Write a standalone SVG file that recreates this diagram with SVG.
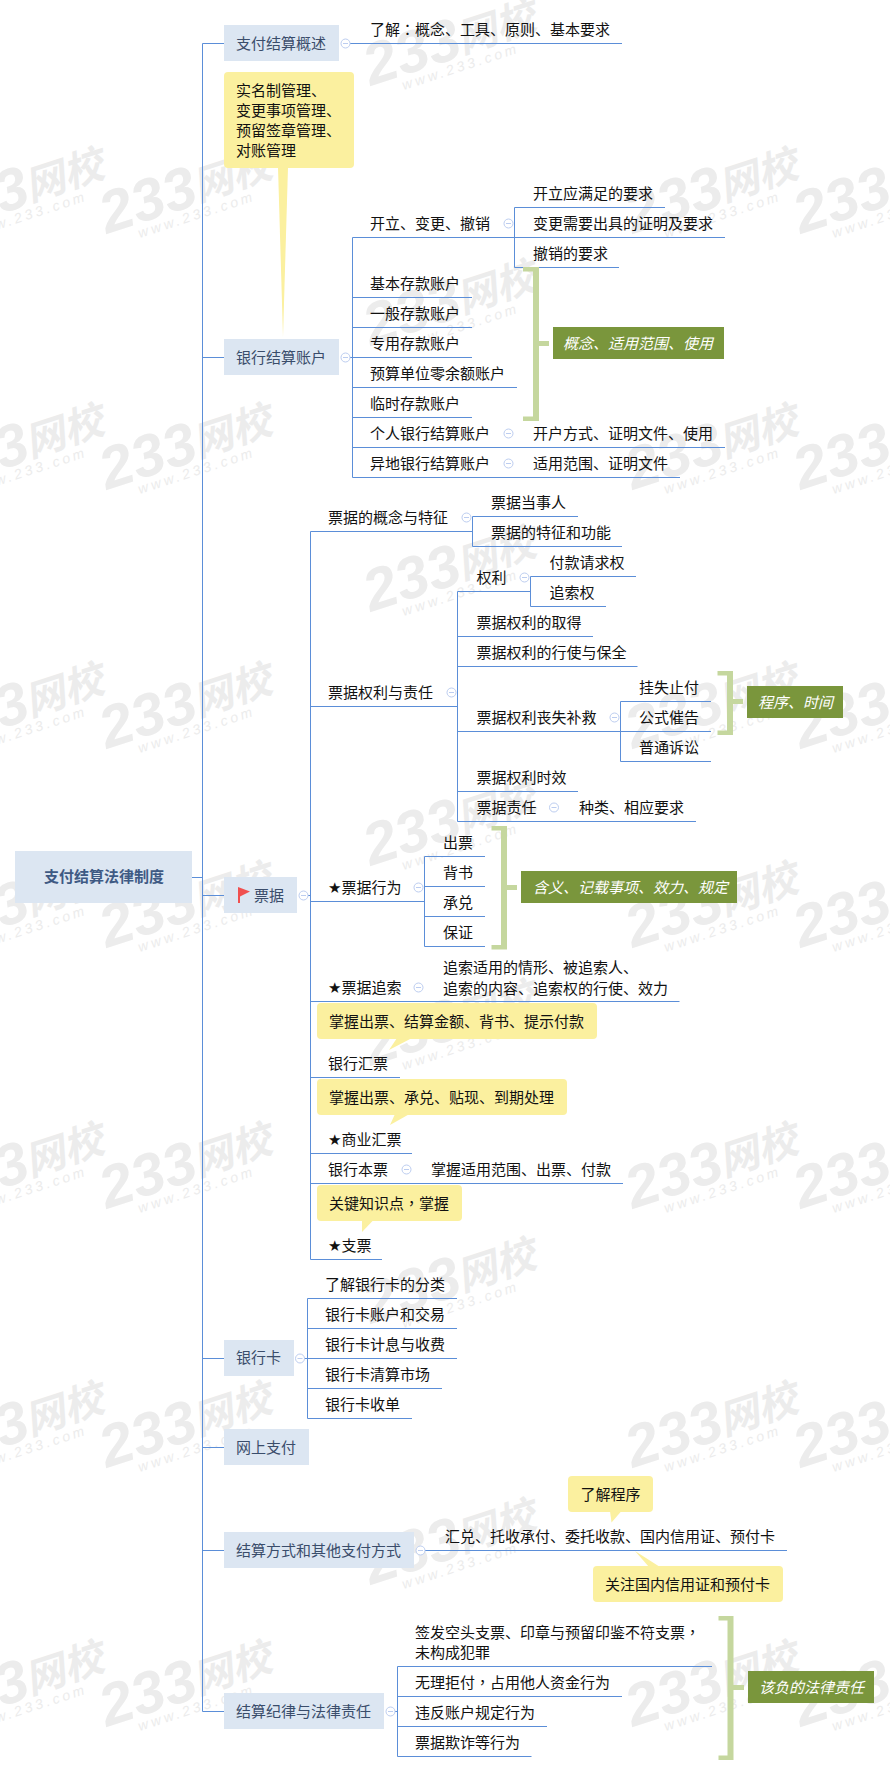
<svg xmlns="http://www.w3.org/2000/svg" width="890" height="1777" viewBox="0 0 890 1777">
<style>
text{font-family:"Noto Sans CJK SC","Noto Sans CJK JP",sans-serif;font-size:15px;fill:#111}
.l1{fill:#3a4d6b}
.root{font-weight:700;fill:#3f5a84}
.g{fill:#fff;font-style:italic}
.tc{font-family:"Noto Sans CJK TC",sans-serif}
.star{font-family:"DejaVu Sans",sans-serif}
.box{fill:#dce6f2}
.note{fill:#fbf09f}
.tag{fill:#7a963c}
.br{fill:#c5d79e}
.ln{fill:none;stroke:#5b8ed8;stroke-width:1}
.wa{font-family:"Liberation Sans",sans-serif;font-weight:700;font-style:italic;font-size:59px;fill:#ececec}
.wb{font-weight:700;font-style:italic;font-size:40px;fill:#ececec}
.wc{font-family:"Liberation Sans",sans-serif;font-style:italic;font-size:14px;letter-spacing:3.2px;fill:#ececec}
.cc{fill:#fff;stroke:#bccdf0;stroke-width:1}
.cm{fill:none;stroke:#bccdf0;stroke-width:1}
</style>
<defs>
<g id="wm" transform="rotate(-18)">
<text class="wa" x="0" y="0">233</text>
<text class="wb" x="97" y="-3">网校</text>
<text class="wc" x="30" y="14">www.233.com</text>
</g>
<g id="c"><circle class="cc" r="4.5"/><path class="cm" d="M-2.5 0H2.5"/></g>
</defs>
<g id="watermarks">
<use href="#wm" transform="translate(-61 234)"/><use href="#wm" transform="translate(107 234)"/><use href="#wm" transform="translate(633 234)"/><use href="#wm" transform="translate(801 234)"/>
<use href="#wm" transform="translate(-61 490)"/><use href="#wm" transform="translate(107 490)"/><use href="#wm" transform="translate(633 490)"/><use href="#wm" transform="translate(801 490)"/>
<use href="#wm" transform="translate(-61 749)"/><use href="#wm" transform="translate(107 749)"/><use href="#wm" transform="translate(633 749)"/><use href="#wm" transform="translate(801 749)"/>
<use href="#wm" transform="translate(-61 948)"/><use href="#wm" transform="translate(107 948)"/><use href="#wm" transform="translate(633 948)"/><use href="#wm" transform="translate(801 948)"/>
<use href="#wm" transform="translate(-61 1209)"/><use href="#wm" transform="translate(107 1209)"/><use href="#wm" transform="translate(633 1209)"/><use href="#wm" transform="translate(801 1209)"/>
<use href="#wm" transform="translate(-61 1468)"/><use href="#wm" transform="translate(107 1468)"/><use href="#wm" transform="translate(633 1468)"/><use href="#wm" transform="translate(801 1468)"/>
<use href="#wm" transform="translate(-61 1727)"/><use href="#wm" transform="translate(107 1727)"/><use href="#wm" transform="translate(633 1727)"/><use href="#wm" transform="translate(801 1727)"/>
<use href="#wm" transform="translate(371 86)"/><use href="#wm" transform="translate(371 346)"/><use href="#wm" transform="translate(371 612)"/><use href="#wm" transform="translate(371 866)"/><use href="#wm" transform="translate(371 1066)"/><use href="#wm" transform="translate(371 1324)"/><use href="#wm" transform="translate(371 1585)"/>
</g>
<g id="connectors">
<path class="ln" d="M192 877.5H202.5M224 43.5H202.5V1711.5H224M202.5 357.5H224M202.5 895.5H224M202.5 1358.5H224M202.5 1447.5H224M202.5 1550.5H224"/>
<path class="ln" d="M350 43.5H622"/>
<path class="ln" d="M344 357.5H352.5M352.5 477.5V237.5H514.5M514.5 207.5V267.5M514.5 207.5H665M514.5 237.5H725M514.5 267.5H619M352.5 297.5H472M352.5 327.5H472M352.5 357.5H472M352.5 387.5H517M352.5 417.5H472M352.5 447.5H725M352.5 477.5H680"/>
<path class="ln" d="M308 895.5H310.5M310.5 531.5V1259.5M310.5 531.5H472.5M472.5 516.5V546.5M472.5 516.5H578M472.5 546.5H622"/>
<path class="ln" d="M310.5 706.5H457.5M457.5 591.5V821.5M457.5 591.5H530.5M530.5 576.5V606.5M530.5 576.5H636M530.5 606.5H606M457.5 636.5H593M457.5 666.5H637.5M457.5 731.5H620.5M620.5 701.5V761.5M620.5 701.5H711M620.5 731.5H711M620.5 761.5H711M457.5 791.5H578M457.5 821.5H696"/>
<path class="ln" d="M310.5 901.5H424.5M424.5 856.5V946.5M424.5 856.5H485M424.5 886.5H485M424.5 916.5H485M424.5 946.5H485"/>
<path class="ln" d="M310.5 1001.5H679.5M310.5 1077.5H400M310.5 1153.5H412M310.5 1183.5H623M310.5 1259.5H382"/>
<path class="ln" d="M299 1358.5H457M307.5 1298.5V1418.5M307.5 1298.5H457M307.5 1328.5H457M307.5 1388.5H442M307.5 1418.5H412"/>
<path class="ln" d="M420 1550.5H787"/>
<path class="ln" d="M390 1711.5H397.5M397.5 1666.5V1756.5M397.5 1666.5H712M397.5 1696.5H622M397.5 1726.5H547M397.5 1756.5H531.5"/>
</g>
<g id="n-root"><rect class="box" x="15" y="851" width="177" height="52"/><text class="root" x="44" y="882">支付结算法律制度</text></g>
<g id="n-overview"><rect class="box" x="224" y="25" width="115" height="36"/><text class="l1" x="236" y="49">支付结算概述</text><use href="#c" x="345.5" y="43.5"/></g>
<g id="n-overview-1"><text x="370" y="34.5">了解<tspan class="tc">：</tspan>概念、工具、原则、基本要求</text></g>
<g id="note-account"><polygon class="note" points="278,167 288,167 283,337"/><rect class="note" x="224" y="72" width="130" height="96" rx="4"/><text x="236" y="95.500">实名制管理、</text><text x="236" y="115.500">变更事项管理、</text><text x="236" y="135.500">预留签章管理、</text><text x="236" y="155.500">对账管理</text></g>
<g id="n-account"><rect class="box" x="224" y="339" width="115" height="36"/><text class="l1" x="236" y="363">银行结算账户</text><use href="#c" x="345.5" y="357.5"/></g>
<g id="n-open"><text x="370" y="228.500">开立、变更、撤销</text><use href="#c" x="508.500" y="223.500"/></g>
<g id="n-open-1"><text x="533" y="198.500">开立应满足的要求</text></g>
<g id="n-open-2"><text x="533" y="228.500">变更需要出具的证明及要求</text></g>
<g id="n-open-3"><text x="533" y="258.500">撤销的要求</text></g>
<g id="n-acc-1"><text x="370" y="288.500">基本存款账户</text></g>
<g id="n-acc-2"><text x="370" y="318.500">一般存款账户</text></g>
<g id="n-acc-3"><text x="370" y="348.500">专用存款账户</text></g>
<g id="n-acc-4"><text x="370" y="378.500">预算单位零余额账户</text></g>
<g id="n-acc-5"><text x="370" y="408.500">临时存款账户</text></g>
<g id="n-acc-6"><text x="370" y="438.500">个人银行结算账户</text><use href="#c" x="508.500" y="433.500"/></g>
<g id="n-acc-6a"><text x="533" y="438.500">开户方式、证明文件、使用</text></g>
<g id="n-acc-7"><text x="370" y="468.500">异地银行结算账户</text><use href="#c" x="508.500" y="463.500"/></g>
<g id="n-acc-7a"><text x="533" y="468.500">适用范围、证明文件</text></g>
<g id="tag-acc"><path class="br" d="M523 267H539V341H549V346H539V421H523V416.500H533V271.500H523Z"/><rect class="tag" x="553" y="327" width="171" height="32"/><text class="g" x="563" y="348.500">概念、适用范围、使用</text></g>

<g id="n-bill"><rect class="box" x="224" y="877" width="73" height="36"/><path d="M238 887V903H240V896.500L250 891.500Z" fill="#f0504f"/><text class="l1" x="254" y="901">票据</text><use href="#c" x="303.500" y="895.500"/></g>
<g id="n-b1"><text x="328" y="523">票据的概念与特征</text><use href="#c" x="466.500" y="517.500"/></g>
<g id="n-b1a"><text x="491" y="507.500">票据当事人</text></g>
<g id="n-b1b"><text x="491" y="537.500">票据的特征和功能</text></g>
<g id="n-b2"><text x="328" y="698">票据权利与责任</text><use href="#c" x="451.500" y="692.500"/></g>
<g id="n-b2a"><text x="476.500" y="583">权利</text><use href="#c" x="524.500" y="577.500"/></g>
<g id="n-b2a1"><text x="549.500" y="567.500">付款请求权</text></g>
<g id="n-b2a2"><text x="549.500" y="597.500">追索权</text></g>
<g id="n-b2b"><text x="476.500" y="627.500">票据权利的取得</text></g>
<g id="n-b2c"><text x="476.500" y="657.500">票据权利的行使与保全</text></g>
<g id="n-b2d"><text x="476.500" y="723">票据权利丧失补救</text><use href="#c" x="614.500" y="717.500"/></g>
<g id="n-b2d1"><text x="639" y="692.500">挂失止付</text></g>
<g id="n-b2d2"><text x="639" y="722.500">公式催告</text></g>
<g id="n-b2d3"><text x="639" y="752.500">普通诉讼</text></g>
<g id="tag-b2d"><path class="br" d="M717.500 671H733V699H743V704H733V735H717.500V730.500H727V675.500H717.500Z"/><rect class="tag" x="747" y="686" width="96" height="32"/><text class="g" x="758" y="707.500">程序、时间</text></g>
<g id="n-b2e"><text x="476.500" y="782.500">票据权利时效</text></g>
<g id="n-b2f"><text x="476.500" y="812.500">票据责任</text><use href="#c" x="554" y="807.500"/></g>
<g id="n-b2f1"><text x="579" y="812.500">种类、相应要求</text></g>
<g id="n-b3"><text x="328" y="893"><tspan class="star">★</tspan>票据行为</text><use href="#c" x="418.500" y="887.500"/></g>
<g id="n-b3a"><text x="443" y="847.500">出票</text></g>
<g id="n-b3b"><text x="443" y="877.500">背书</text></g>
<g id="n-b3c"><text x="443" y="907.500">承兑</text></g>
<g id="n-b3d"><text x="443" y="937.500">保证</text></g>
<g id="tag-b3"><path class="br" d="M491.500 826H507V885H517V890H507V949.500H491.500V945H501V830.500H491.500Z"/><rect class="tag" x="521" y="871" width="216" height="32"/><text class="g" x="533" y="892.500">含义、记载事项、效力、规定</text></g>
<g id="n-b4"><text x="328" y="993"><tspan class="star">★</tspan>票据追索</text><use href="#c" x="418.500" y="987.500"/></g>
<g id="n-b4a"><text x="443" y="973">追索适用的情形、被追索人、</text><text x="443" y="993.500">追索的内容、追索权的行使、效力</text></g>
<g id="note-b5"><polygon class="note" points="397,1038 412,1038 389,1050"/><rect class="note" x="317" y="1003" width="280" height="36" rx="4"/><text x="329" y="1027">掌握出票、结算金额、背书、提示付款</text></g>
<g id="n-b5"><text x="328" y="1068.500">银行汇票</text></g>
<g id="note-b6"><polygon class="note" points="395,1114 409.500,1114 390,1125"/><rect class="note" x="317" y="1079" width="250" height="36" rx="4"/><text x="329" y="1102.500">掌握出票、承兑、贴现、到期处理</text></g>
<g id="n-b6"><text x="328" y="1144.500"><tspan class="star">★</tspan>商业汇票</text></g>
<g id="n-b7"><text x="328" y="1174.500">银行本票</text><use href="#c" x="406.500" y="1169.500"/></g>
<g id="n-b7a"><text x="431" y="1174.500">掌握适用范围、出票、付款</text></g>
<g id="note-b8"><polygon class="note" points="362,1220 373.500,1220 362,1232"/><rect class="note" x="317" y="1185" width="145" height="36" rx="4"/><text x="329" y="1208.500">关键知识点<tspan class="tc">，</tspan>掌握</text></g>
<g id="n-b8"><text x="328" y="1251"><tspan class="star">★</tspan>支票</text></g>

<g id="n-card"><rect class="box" x="224" y="1340" width="70" height="36"/><text class="l1" x="236" y="1363">银行卡</text><use href="#c" x="300" y="1358.500"/></g>
<g id="n-card1"><text x="325" y="1289.500">了解银行卡的分类</text></g>
<g id="n-card2"><text x="325" y="1319.500">银行卡账户和交易</text></g>
<g id="n-card3"><text x="325" y="1349.500">银行卡计息与收费</text></g>
<g id="n-card4"><text x="325" y="1379.500">银行卡清算市场</text></g>
<g id="n-card5"><text x="325" y="1409.500">银行卡收单</text></g>
<g id="n-online"><rect class="box" x="224" y="1429" width="85" height="36"/><text class="l1" x="236" y="1453">网上支付</text></g>
<g id="n-settle"><rect class="box" x="224" y="1532" width="190" height="36"/><text class="l1" x="236" y="1556">结算方式和其他支付方式</text><use href="#c" x="420.500" y="1550.500"/></g>
<g id="n-settle1"><text x="445" y="1542">汇兑、托收承付、委托收款、国内信用证、预付卡</text></g>
<g id="note-settle1"><polygon class="note" points="610,1511 621.500,1511 611.500,1522.500"/><rect class="note" x="568" y="1476" width="85" height="36" rx="4"/><text x="580.500" y="1499.500">了解程序</text></g>
<g id="note-settle2"><polygon class="note" points="635,1551 649,1567 660,1567"/><rect class="note" x="593" y="1566" width="190" height="36" rx="4"/><text x="605" y="1590">关注国内信用证和预付卡</text></g>
<g id="n-law"><rect class="box" x="224" y="1693" width="160" height="36"/><text class="l1" x="236" y="1717">结算纪律与法律责任</text><use href="#c" x="390.500" y="1711.500"/></g>
<g id="n-law1"><text x="415" y="1638">签发空头支票、印章与预留印鉴不符支票<tspan class="tc">，</tspan></text><text x="415" y="1658">未构成犯罪</text></g>
<g id="n-law2"><text x="415" y="1688">无理拒付<tspan class="tc">，</tspan>占用他人资金行为</text></g>
<g id="n-law3"><text x="415" y="1718">违反账户规定行为</text></g>
<g id="n-law4"><text x="415" y="1748">票据欺诈等行为</text></g>
<g id="tag-law"><path class="br" d="M718.500 1616H733.500V1685H744V1690H733.500V1760H718.500V1755.500H727.500V1620.500H718.500Z"/><rect class="tag" x="748" y="1671" width="126" height="32"/><text class="g" x="759" y="1692.500">该负的法律责任</text></g>
</svg>
